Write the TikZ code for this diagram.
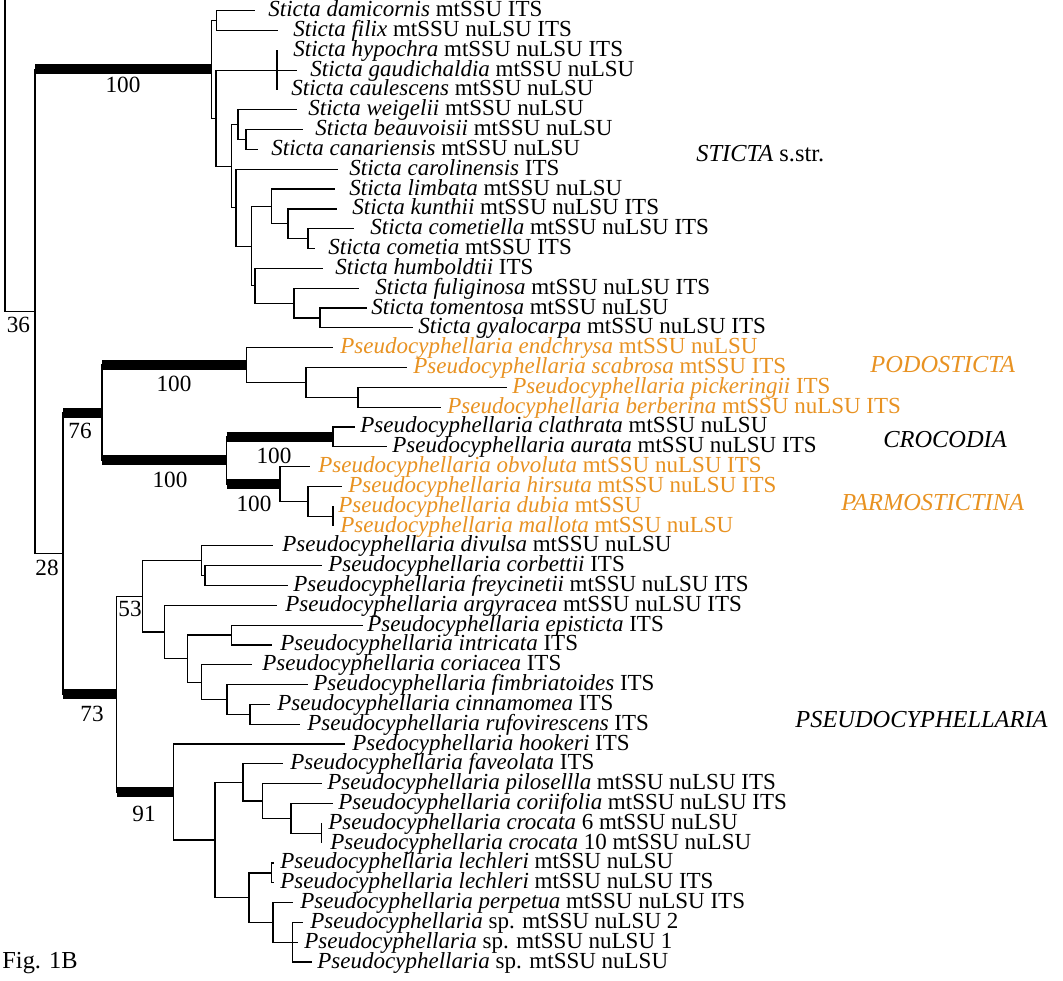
\documentclass[tikz,border=0pt]{standalone}
\usepackage{fontspec}
\setmainfont{Liberation Serif}
\definecolor{podo}{RGB}{232,146,34}

\begin{document}
\begin{tikzpicture}[x=0.5pt, y=-0.5pt,
    br/.style={line width=0.6pt},
    bar/.style={line width=5pt},
    leaf/.style={anchor=base west, inner sep=0pt, font=\fontsize{11.5}{13}\selectfont},
    supp/.style={anchor=base, inner sep=0pt, font=\fontsize{11.6}{13}\selectfont},
    clade/.style={anchor=base west, inner sep=0pt, font=\fontsize{12.2}{13}\selectfont}]
    \useasboundingbox (0,0) rectangle (1063,980);

    % leaves: row / tip x / text x / colour / species / markers
    \foreach \i/\tx/\lx/\col/\nm/\mk in {
        0/255/268/black/Sticta damicornis/mtSSU ITS,
        1/278/293/black/Sticta filix/mtSSU nuLSU ITS,
        2/277/293/black/Sticta hypochra/mtSSU nuLSU ITS,
        3/297/310/black/Sticta gaudichaldia/mtSSU nuLSU,
        4/277/291/black/Sticta caulescens/mtSSU nuLSU,
        5/297/308/black/Sticta weigelii/mtSSU nuLSU,
        6/303/315/black/Sticta beauvoisii/mtSSU nuLSU,
        7/258/271/black/Sticta canariensis/mtSSU nuLSU,
        8/338/349/black/Sticta carolinensis/ITS,
        9/335/349/black/Sticta limbata/mtSSU nuLSU,
        10/337/352/black/Sticta kunthii/mtSSU nuLSU ITS,
        11/354/370/black/Sticta cometiella/mtSSU nuLSU ITS,
        12/315/328/black/Sticta cometia/mtSSU ITS,
        13/323/335/black/Sticta humboldtii/ITS,
        14/359/375/black/Sticta fuliginosa/mtSSU nuLSU ITS,
        15/367/371/black/Sticta tomentosa/mtSSU nuLSU,
        16/413/418/black/Sticta gyalocarpa/mtSSU nuLSU ITS,
        17/333/340/podo/Pseudocyphellaria endchrysa/mtSSU nuLSU,
        18/407/413/podo/Pseudocyphellaria scabrosa/mtSSU ITS,
        19/507/512/podo/Pseudocyphellaria pickeringii/ITS,
        20/441/447/podo/Pseudocyphellaria berberina/mtSSU nuLSU ITS,
        21/355/360/black/Pseudocyphellaria clathrata/mtSSU nuLSU,
        22/387/392/black/Pseudocyphellaria aurata/mtSSU nuLSU ITS,
        23/310/318/podo/Pseudocyphellaria obvoluta/mtSSU nuLSU ITS,
        24/342/348/podo/Pseudocyphellaria hirsuta/mtSSU nuLSU ITS,
        25/333/338/podo/Pseudocyphellaria dubia/mtSSU,
        26/333/340/podo/Pseudocyphellaria mallota/mtSSU nuLSU,
        27/273/282/black/Pseudocyphellaria divulsa/mtSSU nuLSU,
        28/322/328/black/Pseudocyphellaria corbettii/ITS,
        29/288/293/black/Pseudocyphellaria freycinetii/mtSSU nuLSU ITS,
        30/277/285/black/Pseudocyphellaria argyracea/mtSSU nuLSU ITS,
        31/363/367/black/Pseudocyphellaria episticta/ITS,
        32/272/280/black/Pseudocyphellaria intricata/ITS,
        33/252/262/black/Pseudocyphellaria coriacea/ITS,
        34/308/313/black/Pseudocyphellaria fimbriatoides/ITS,
        35/270/277/black/Pseudocyphellaria cinnamomea/ITS,
        36/300/307/black/Pseudocyphellaria rufovirescens/ITS,
        37/345/352/black/Psedocyphellaria hookeri/ITS,
        38/283/290/black/Pseudocyphellaria faveolata/ITS,
        39/322/327/black/Pseudocyphellaria pilosellla/mtSSU nuLSU ITS,
        40/333/338/black/Pseudocyphellaria coriifolia/mtSSU nuLSU ITS,
        41/321.7/328/black/Pseudocyphellaria crocata/6 mtSSU nuLSU,
        42/321.7/330/black/Pseudocyphellaria crocata/10 mtSSU nuLSU,
        43/274/280/black/Pseudocyphellaria lechleri/mtSSU nuLSU,
        44/274/280/black/Pseudocyphellaria lechleri/mtSSU nuLSU ITS,
        45/293/300/black/Pseudocyphellaria perpetua/mtSSU nuLSU ITS,
        46/303/310/black/Pseudocyphellaria/sp. mtSSU nuLSU 2,
        47/298/304/black/Pseudocyphellaria/sp. mtSSU nuLSU 1,
        48/312/317/black/Pseudocyphellaria/sp. mtSSU nuLSU}{
        \coordinate (t\i) at (\tx,{10.7+19.82*\i});
        \node[leaf, text=\col] (l\i) at (\lx,{16.7+19.82*\i}) {\textit{\nm} \mk};
    }

    % backbone
    \coordinate (top) at (5,0);
    \coordinate (n35) at (35,311.4);
    \coordinate (n63) at (63,553.4);

    % Sticta s.str.
    \coordinate (sticta) at (211.5,69.4);
    \coordinate (df) at (216.5,20.6);
    \coordinate (r1) at (216,118.2);
    \coordinate (hyp) at (277,70.2);
    \coordinate (v1) at (231.7,166.2);
    \coordinate (w1) at (238,124.7);
    \coordinate (bc) at (246,139.5);
    \coordinate (x1) at (236,207.7);
    \coordinate (y1) at (251.7,246.2);
    \coordinate (z1) at (271.7,206.5);
    \coordinate (k1) at (288,223.8);
    \coordinate (cc) at (308,238.6);
    \coordinate (q1) at (255,285.8);
    \coordinate (ftg) at (294,303.1);
    \coordinate (tg) at (320,317.9);

    % Podosticta, Crocodia, Parmostictina
    \coordinate (n76) at (102,412.7);
    \coordinate (podo) at (246.7,365.0);
    \coordinate (ps) at (306,382.4);
    \coordinate (pb) at (358,397.2);
    \coordinate (cp) at (226.7,460.4);
    \coordinate (croc) at (333,436.8);
    \coordinate (parm) at (280,483.9);
    \coordinate (hdm) at (308,501.3);
    \coordinate (dm) at (333,516.1);

    % Pseudocyphellaria
    \coordinate (n73) at (116.7,694.2);
    \coordinate (n53) at (142.3,596.3);
    \coordinate (dcf) at (201.7,560.7);
    \coordinate (cf) at (205,575.6);
    \coordinate (g1) at (164.3,632.0);
    \coordinate (h2) at (187.7,658.6);
    \coordinate (ei) at (231.7,635.0);
    \coordinate (cfcr) at (201.7,682.2);
    \coordinate (fcr) at (227,699.5);
    \coordinate (cr) at (250,714.3);
    \coordinate (n91) at (173.3,792.0);
    \coordinate (c1) at (215,840.0);
    \coordinate (fpc) at (243,782.5);
    \coordinate (pc) at (262.7,801.0);
    \coordinate (cc2) at (291,818.4);
    \coordinate (cro) at (321.7,833.2);
    \coordinate (lp) at (249,897.6);
    \coordinate (lech) at (271.7,872.9);
    \coordinate (psp) at (273,922.4);
    \coordinate (sp) at (292.7,942.2);

    % branches
    \draw[br] (top) |- (n35) (n35) |- (sticta) (n35) |- (n63)
        (n63) |- (n76) (n63) |- (n73);
    \draw[br] (sticta) |- (df) (sticta) |- (r1) (df) |- (t0) (df) |- (t1)
        (r1) |- (hyp) (r1) |- (v1) (hyp) |- (t2) (hyp) |- (t3) (hyp) |- (t4)
        (v1) |- (w1) (v1) |- (x1) (w1) |- (t5) (w1) |- (bc) (bc) |- (t6) (bc) |- (t7)
        (x1) |- (t8) (x1) |- (y1) (y1) |- (z1) (y1) |- (q1)
        (z1) |- (t9) (z1) |- (k1) (k1) |- (t10) (k1) |- (cc) (cc) |- (t11) (cc) |- (t12)
        (q1) |- (t13) (q1) |- (ftg) (ftg) |- (t14) (ftg) |- (tg) (tg) |- (t15) (tg) |- (t16);
    \draw[br] (n76) |- (podo) (n76) |- (cp) (podo) |- (t17) (podo) |- (ps)
        (ps) |- (t18) (ps) |- (pb) (pb) |- (t19) (pb) |- (t20)
        (cp) |- (croc) (cp) |- (parm) (croc) |- (t21) (croc) |- (t22)
        (parm) |- (t23) (parm) |- (hdm) (hdm) |- (t24) (hdm) |- (dm) (dm) |- (t25) (dm) |- (t26);
    \draw[br] (n73) |- (n53) (n73) |- (n91) (n53) |- (dcf) (n53) |- (g1)
        (dcf) |- (t27) (dcf) |- (cf) (cf) |- (t28) (cf) |- (t29)
        (g1) |- (t30) (g1) |- (h2) (h2) |- (ei) (h2) |- (cfcr) (ei) |- (t31) (ei) |- (t32)
        (cfcr) |- (t33) (cfcr) |- (fcr) (fcr) |- (t34) (fcr) |- (cr) (cr) |- (t35) (cr) |- (t36)
        (n91) |- (t37) (n91) |- (c1) (c1) |- (fpc) (c1) |- (lp)
        (fpc) |- (t38) (fpc) |- (pc) (pc) |- (t39) (pc) |- (cc2) (cc2) |- (t40) (cc2) |- (cro)
        (cro) |- (t41) (cro) |- (t42) (lp) |- (lech) (lp) |- (psp) (lech) |- (t43) (lech) |- (t44)
        (psp) |- (t45) (psp) |- (sp) (sp) |- (t46) (sp) |- (t47) (sp) |- (t48);

    % well supported branches
    \draw[bar] (n35 |- sticta) -- (sticta);
    \draw[bar] (n63 |- n76) -- (n76);
    \draw[bar] (n76 |- podo) -- (podo);
    \draw[bar] (n76 |- cp) -- (cp);
    \draw[bar] (cp |- croc) -- (croc);
    \draw[bar] (cp |- parm) -- (parm);
    \draw[bar] (n63 |- n73) -- (n73);
    \draw[bar] (n73 |- n91) -- (n91);

    % support values
    \node[supp] (s36) at (18.5,332) {36};
    \node[supp] (s100a) at (123,92) {100};
    \node[supp] (s76) at (80,438) {76};
    \node[supp] (s100b) at (174,391) {100};
    \node[supp] (s100c) at (170,487) {100};
    \node[supp] (s100d) at (274,463) {100};
    \node[supp] (s100e) at (254,511) {100};
    \node[supp] (s28) at (47,575) {28};
    \node[supp] (s53) at (130,616) {53};
    \node[supp] (s73) at (92,721) {73};
    \node[supp] (s91) at (144,821) {91};

    % clade names
    \node[clade] (cl-sticta) at (696,161) {\textit{STICTA} s.str.};
    \node[clade, text=podo] (cl-podo) at (870,372) {\textit{PODOSTICTA}};
    \node[clade] (cl-croc) at (883,447) {\textit{CROCODIA}};
    \node[clade, text=podo] (cl-parm) at (841,510) {\textit{PARMOSTICTINA}};
    \node[clade] (cl-pseudo) at (795,727) {\textit{PSEUDOCYPHELLARIA}};
    \node[clade] (fig) at (2,968) {Fig. 1B};
\end{tikzpicture}
\end{document}
